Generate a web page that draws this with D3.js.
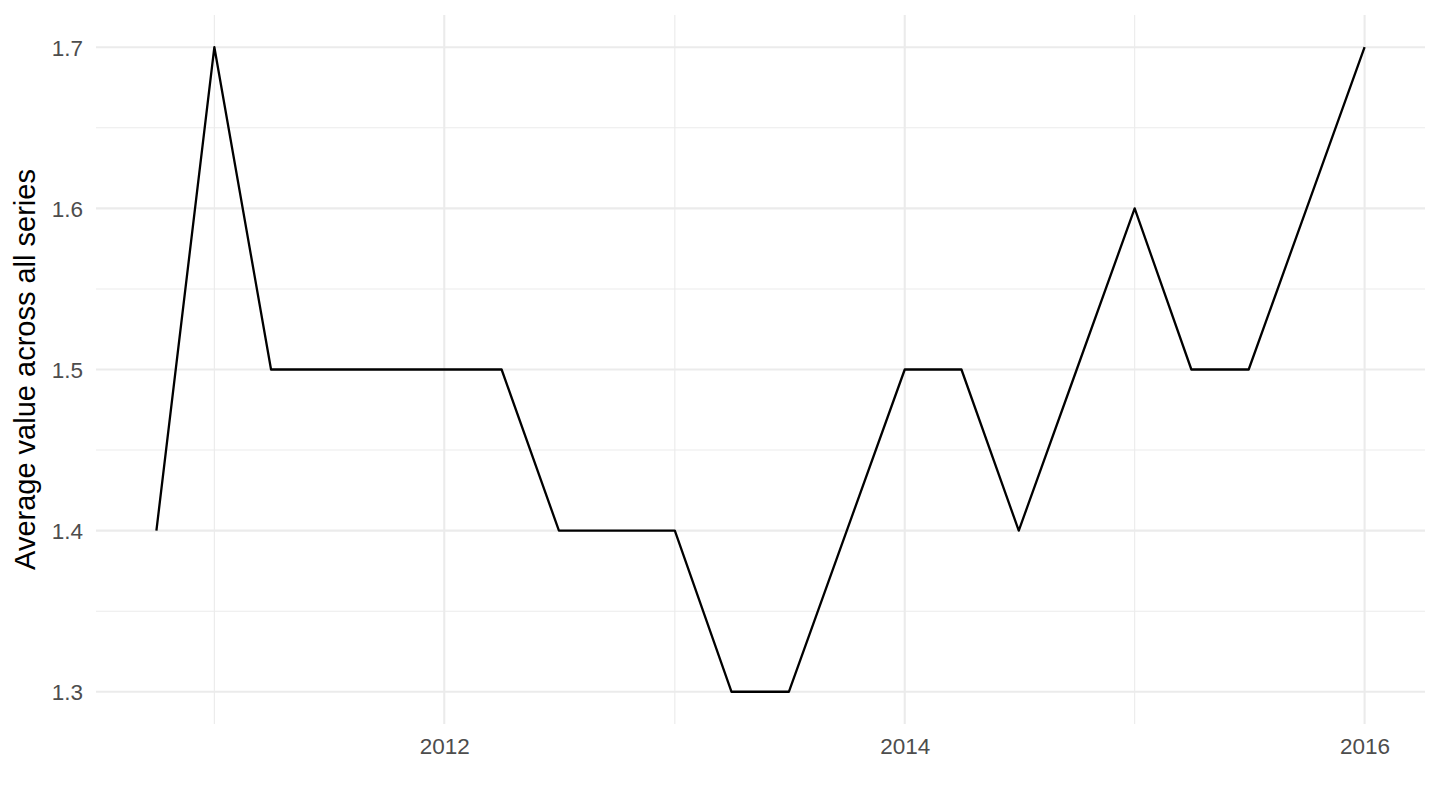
<!DOCTYPE html>
<html>
<head>
<meta charset="utf-8">
<script src="https://cdn.jsdelivr.net/npm/d3@7"></script>
<style>
html,body{margin:0;padding:0;background:#fff;}
svg{display:block;font-family:"Liberation Sans",Arial,Helvetica,sans-serif;}
</style>
</head>
<body>
<svg id="chart" width="1440" height="810"></svg>
<script>
const dates = ["2010-10-01","2011-01-01","2011-04-01","2011-07-01","2011-10-01","2012-01-01","2012-04-01","2012-07-01","2012-10-01","2013-01-01","2013-04-01","2013-07-01","2013-10-01","2014-01-01","2014-04-01","2014-07-01","2014-10-01","2015-01-01","2015-04-01","2015-07-01","2015-10-01","2016-01-01"];
const values = [1.4,1.7,1.5,1.5,1.5,1.5,1.5,1.4,1.4,1.4,1.3,1.3,1.4,1.5,1.5,1.4,1.5,1.6,1.5,1.5,1.6,1.7];
const xMajor = ["2012-01-01","2014-01-01","2016-01-01"];
const xMinor = ["2011-01-01","2013-01-01","2015-01-01"];
const xTickLabels = ["2012","2014","2016"];
const yMajor = [1.3,1.4,1.5,1.6,1.7];
const yMinor = [1.35,1.45,1.55,1.65];
const yTitle = "Average value across all series";

const parse = d3.timeParse("%Y-%m-%d");
const data = dates.map((d,i)=>({date:parse(d), value:values[i]}));

const panel = {left:96, right:1425, top:15, bottom:724};
const svg = d3.select("#chart");

const [t0,t1] = d3.extent(data, d=>d.date);
const span = t1 - t0;
const x = d3.scaleTime()
  .domain([new Date(+t0 - span*0.05), new Date(+t1 + span*0.05)])
  .range([panel.left, panel.right]);
const [v0,v1] = d3.extent(values);
const vs = v1 - v0;
const y = d3.scaleLinear()
  .domain([v0 - vs*0.05, v1 + vs*0.05])
  .range([panel.bottom, panel.top]);

const grid = svg.append("g");
// minor
grid.selectAll(".ymin").data(yMinor).join("line")
  .attr("x1",panel.left).attr("x2",panel.right)
  .attr("y1",d=>y(d)).attr("y2",d=>y(d))
  .attr("stroke","#EBEBEB").attr("stroke-width",1.1);
grid.selectAll(".xmin").data(xMinor.map(parse)).join("line")
  .attr("y1",panel.top).attr("y2",panel.bottom)
  .attr("x1",d=>x(d)).attr("x2",d=>x(d))
  .attr("stroke","#EBEBEB").attr("stroke-width",1.1);
// major
grid.selectAll(".ymaj").data(yMajor).join("line")
  .attr("x1",panel.left).attr("x2",panel.right)
  .attr("y1",d=>y(d)).attr("y2",d=>y(d))
  .attr("stroke","#EBEBEB").attr("stroke-width",2.1);
grid.selectAll(".xmaj").data(xMajor.map(parse)).join("line")
  .attr("y1",panel.top).attr("y2",panel.bottom)
  .attr("x1",d=>x(d)).attr("x2",d=>x(d))
  .attr("stroke","#EBEBEB").attr("stroke-width",2.1);

// axes (text only)
const yAxis = d3.axisLeft(y).tickValues(yMajor).tickFormat(d3.format(".1f")).tickSize(0).tickPadding(13);
const gy = svg.append("g").attr("transform",`translate(${panel.left},0)`).call(yAxis);
gy.select(".domain").remove();
gy.selectAll("text").attr("fill","#4D4D4D").style("font-size","22.5px").attr("dy","0.36em");

const xAxis = d3.axisBottom(x).tickValues(xMajor.map(parse)).tickFormat((d,i)=>xTickLabels[i]).tickSize(0).tickPadding(14);
const gx = svg.append("g").attr("transform",`translate(0,${panel.bottom})`).call(xAxis);
gx.select(".domain").remove();
gx.selectAll("text").attr("fill","#4D4D4D").style("font-size","22.5px");

// line
const line = d3.line().x(d=>x(d.date)).y(d=>y(d.value));
svg.append("path").datum(data)
  .attr("d",line).attr("fill","none").attr("stroke","#000").attr("stroke-width",2.3)
  .attr("stroke-linejoin","round");

// y title
svg.append("text")
  .attr("transform",`translate(35,${(panel.top+panel.bottom)/2}) rotate(-90)`)
  .attr("text-anchor","middle")
  .style("font-size","29px").attr("fill","#000")
  .text(yTitle);
</script>
</body>
</html>
